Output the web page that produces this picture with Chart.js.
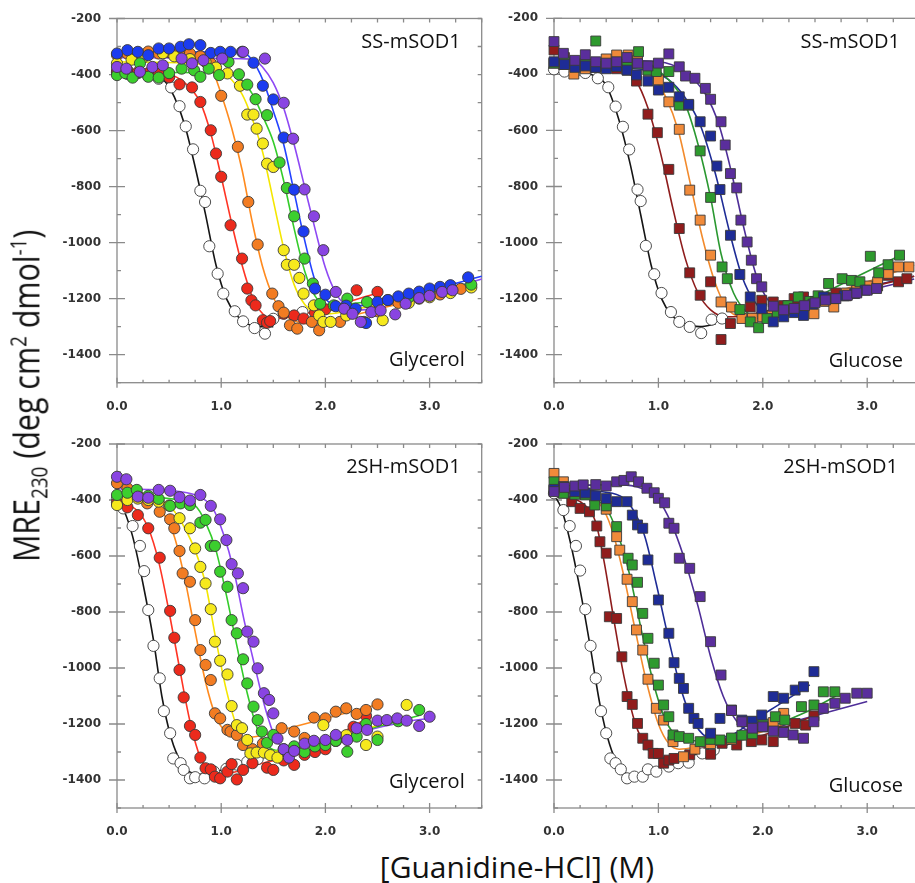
<!DOCTYPE html>
<html>
<head>
<meta charset="utf-8">
<script src="https://cdn.jsdelivr.net/npm/chart.js@4.4.1/dist/chart.umd.min.js"></script>
<style>
    body { margin: 0; width: 915px; height: 883px; overflow: hidden; background: #fff; position: relative; font-family: "Open Sans", sans-serif; }
    canvas { position: absolute; }
    #yTitle { position: absolute; left: 0; top: 0; white-space: nowrap; font-size: 36px; color: #111; line-height: 1; }
    #yTitle sub, #yTitle sup { font-size: 0.62em; }
    #xTitle { position: absolute; left: 0; width: 1034px; top: 846px; text-align: center; font-size: 30px; color: #111; white-space: nowrap; }
</style>
</head>
<body>
<canvas id="ssGlycerol" width="440" height="425" style="left:50px;top:0"></canvas>
<canvas id="ssGlucose" width="440" height="425" style="left:490px;top:0"></canvas>
<canvas id="shGlycerol" width="440" height="420" style="left:50px;top:425px"></canvas>
<canvas id="shGlucose" width="440" height="420" style="left:490px;top:425px"></canvas>
<div id="yTitle">MRE<sub>230</sub> (deg cm<sup>2</sup> dmol<sup>-1</sup>)</div>
<div id="xTitle">[Guanidine-HCl] (M)</div>
<script>
// Axis ranges and tick labels shared by all four panels
const xRange = [0, 3.5];
const yRange = [-1500, -200];
const xLabels = ['0.0', '1.0', '2.0', '3.0'];
const yLabels = [-200, -400, -600, -800, -1000, -1200, -1400];

// ---- SS-mSOD1 / glycerol (circles): [GdnHCl M, MRE]
const ssGlyWhite = [[0,-392],[0.1,-398],[0.2,-395],[0.3,-405],[0.4,-415],[0.52,-446],[0.6,-513],[0.66,-585],[0.73,-667],[0.8,-815],[0.845,-855],[0.886,-1013],[0.966,-1111],[1.02,-1182],[1.13,-1245],[1.21,-1281],[1.32,-1305],[1.42,-1325],[1.5,-1272],[1.78,-1248]];
const ssGlyRed = [[0,-388],[0.1,-385],[0.2,-392],[0.3,-395],[0.4,-398],[0.5,-410],[0.6,-435],[0.72,-446],[0.8,-498],[0.9,-599],[0.95,-682],[1.0,-765],[1.09,-938],[1.2,-1057],[1.25,-1164],[1.29,-1206],[1.33,-1224],[1.4,-1277],[1.44,-1286],[1.47,-1280],[1.6,-1254],[1.7,-1260],[1.79,-1271],[1.9,-1250],[2.0,-1238],[2.3,-1170],[2.5,-1176]];
const ssGlyOrange = [[0,-330],[0.1,-325],[0.2,-322],[0.3,-318],[0.4,-325],[0.5,-320],[0.6,-318],[0.7,-325],[0.8,-335],[0.9,-360],[1.0,-476],[1.16,-658],[1.26,-855],[1.35,-1007],[1.49,-1182],[1.55,-1227],[1.6,-1250],[1.66,-1295],[1.73,-1307],[1.87,-1283],[1.94,-1313],[2.14,-1283],[2.37,-1283],[2.5,-1245],[2.7,-1215],[2.9,-1200],[3.1,-1185],[3.3,-1165]];
const ssGlyYellow = [[0,-360],[0.14,-347],[0.25,-340],[0.44,-324],[0.55,-335],[0.7,-345],[0.85,-355],[0.95,-375],[1.06,-396],[1.18,-440],[1.25,-543],[1.31,-543],[1.34,-593],[1.4,-646],[1.44,-718],[1.5,-730],[1.6,-1027],[1.63,-1079],[1.7,-1079],[1.75,-1126],[1.79,-1182],[1.89,-1224],[1.94,-1260],[1.98,-1283],[2.05,-1283],[2.2,-1260],[2.55,-1277],[2.8,-1215],[3.0,-1195],[3.2,-1180],[3.4,-1160]];
const ssGlyGreen = [[0,-402],[0.08,-395],[0.15,-411],[0.22,-360],[0.3,-408],[0.4,-411],[0.5,-395],[0.62,-379],[0.74,-385],[0.8,-408],[0.88,-379],[0.98,-402],[1.07,-355],[1.17,-399],[1.25,-436],[1.33,-488],[1.44,-545],[1.56,-714],[1.63,-805],[1.7,-906],[1.8,-1057],[1.88,-1146],[1.95,-1218],[2.08,-1224],[2.21,-1200],[2.4,-1212],[2.6,-1205],[2.8,-1195],[3.0,-1180],[3.2,-1165],[3.4,-1150]];
const ssGlyBlue = [[0,-325],[0.1,-313],[0.2,-319],[0.3,-331],[0.4,-307],[0.5,-307],[0.61,-301],[0.69,-292],[0.8,-295],[0.9,-323],[0.99,-319],[1.09,-319],[1.2,-319],[1.31,-358],[1.4,-440],[1.5,-489],[1.6,-625],[1.7,-811],[1.79,-960],[1.9,-1164],[2.0,-1186],[2.1,-1227],[2.2,-1225],[2.29,-1236],[2.39,-1287],[2.5,-1212],[2.6,-1205],[2.7,-1192],[2.8,-1182],[2.9,-1175],[3.0,-1164],[3.1,-1158],[3.2,-1152],[3.37,-1124]];
const ssGlyPurple = [[0,-373],[0.09,-379],[0.22,-390],[0.34,-373],[0.44,-367],[0.62,-343],[0.72,-360],[0.83,-349],[1.01,-343],[1.21,-319],[1.42,-343],[1.6,-501],[1.69,-629],[1.8,-810],[1.89,-906],[1.98,-1027],[2.1,-1176],[2.18,-1236],[2.26,-1254],[2.34,-1283],[2.44,-1248],[2.53,-1242],[2.67,-1256],[2.77,-1218],[2.9,-1198],[3.0,-1190],[3.12,-1176],[3.22,-1170]];

const ssGlyWhiteFit = [[0,-390],[0.3,-395],[0.45,-420],[0.55,-480],[0.65,-580],[0.75,-730],[0.85,-900],[0.95,-1080],[1.05,-1200],[1.15,-1260],[1.25,-1290],[1.35,-1300],[1.5,-1300]];
const ssGlyRedFit = [[0,-388],[0.5,-400],[0.65,-430],[0.8,-500],[0.9,-610],[1.0,-765],[1.1,-930],[1.2,-1080],[1.3,-1195],[1.4,-1255],[1.5,-1272],[1.7,-1262],[2.0,-1235],[2.5,-1180]];
const ssGlyOrangeFit = [[0,-330],[0.8,-335],[0.9,-370],[1.0,-470],[1.1,-590],[1.2,-740],[1.3,-930],[1.4,-1090],[1.5,-1195],[1.6,-1255],[1.75,-1285],[1.9,-1290],[2.2,-1265],[2.8,-1210],[3.4,-1160]];
const ssGlyYellowFit = [[0,-355],[0.9,-365],[1.05,-400],[1.2,-470],[1.3,-560],[1.4,-680],[1.5,-850],[1.6,-1020],[1.7,-1150],[1.8,-1220],[1.9,-1250],[2.0,-1255],[2.4,-1230],[3.0,-1190],[3.4,-1160]];
const ssGlyGreenFit = [[0,-392],[1.1,-395],[1.2,-420],[1.3,-470],[1.4,-550],[1.5,-640],[1.6,-780],[1.7,-950],[1.8,-1100],[1.9,-1190],[2.0,-1222],[2.2,-1220],[2.8,-1185],[3.4,-1145]];
const ssGlyBlueFit = [[0,-318],[1.2,-320],[1.3,-350],[1.4,-420],[1.5,-530],[1.6,-650],[1.7,-820],[1.8,-990],[1.9,-1135],[2.0,-1200],[2.1,-1222],[2.3,-1225],[2.9,-1180],[3.5,-1120]];
const ssGlyPurpleFit = [[0,-340],[1.3,-345],[1.4,-375],[1.5,-430],[1.6,-520],[1.7,-650],[1.8,-800],[1.9,-950],[2.0,-1090],[2.1,-1180],[2.2,-1225],[2.35,-1240],[2.9,-1195],[3.5,-1130]];

// ---- SS-mSOD1 / glucose (squares)
const ssGluWhite = [[0,-382],[0.1,-390],[0.2,-392],[0.3,-395],[0.42,-414],[0.52,-446],[0.59,-515],[0.66,-587],[0.72,-668],[0.8,-811],[0.83,-852],[0.88,-1012],[0.96,-1113],[1.03,-1180],[1.12,-1248],[1.2,-1283],[1.3,-1301],[1.41,-1323],[1.51,-1275],[1.61,-1271]];
const ssGluRed = [[0,-313],[0.1,-340],[0.2,-365],[0.3,-370],[0.4,-375],[0.5,-370],[0.6,-380],[0.7,-385],[0.79,-424],[0.9,-542],[0.99,-608],[1.1,-739],[1.2,-950],[1.3,-1108],[1.4,-1188],[1.5,-1140],[1.6,-1346],[1.69,-1289],[1.88,-1230],[1.99,-1206],[2.1,-1212],[2.2,-1225],[2.3,-1200],[2.39,-1194],[2.5,-1210],[2.6,-1195],[2.7,-1180],[2.8,-1190],[2.9,-1175],[3.0,-1165],[3.1,-1155],[3.2,-1117],[3.3,-1140],[3.38,-1129]];
const ssGluOrange = [[0,-360],[0.09,-365],[0.19,-399],[0.3,-380],[0.4,-370],[0.5,-345],[0.6,-331],[0.71,-331],[0.8,-350],[0.9,-385],[1.0,-420],[1.1,-498],[1.2,-596],[1.3,-813],[1.4,-920],[1.5,-1045],[1.6,-1212],[1.7,-1230],[1.8,-1271],[1.9,-1270],[2.0,-1265],[2.09,-1260],[2.2,-1245],[2.3,-1240],[2.49,-1254],[2.6,-1210],[2.68,-1230],[2.8,-1180],[2.9,-1170],[3.0,-1155],[3.1,-1140],[3.2,-1110],[3.3,-1087],[3.4,-1087]];
const ssGluGreen = [[0,-360],[0.1,-355],[0.2,-365],[0.3,-365],[0.4,-281],[0.5,-370],[0.6,-365],[0.7,-370],[0.81,-319],[0.9,-385],[0.98,-390],[1.1,-390],[1.2,-510],[1.29,-510],[1.4,-673],[1.5,-839],[1.61,-1087],[1.66,-1129],[1.78,-1239],[1.88,-1283],[1.96,-1304],[2.04,-1271],[2.14,-1250],[2.24,-1225],[2.34,-1194],[2.45,-1210],[2.53,-1190],[2.63,-1146],[2.76,-1129],[2.85,-1135],[2.93,-1140],[3.03,-1049],[3.11,-1108],[3.2,-1079],[3.31,-1045]];
const ssGluNavy = [[0,-355],[0.1,-365],[0.2,-375],[0.3,-370],[0.4,-375],[0.5,-380],[0.6,-372],[0.7,-385],[0.79,-402],[0.9,-424],[1.0,-456],[1.1,-446],[1.2,-480],[1.29,-507],[1.4,-569],[1.5,-620],[1.56,-727],[1.59,-811],[1.69,-974],[1.78,-1114],[1.88,-1194],[1.99,-1236],[2.1,-1283],[2.2,-1265],[2.3,-1250],[2.39,-1260],[2.48,-1220],[2.58,-1194],[2.68,-1200],[2.78,-1190],[2.88,-1182],[2.98,-1170]];
const ssGluPurple = [[0,-283],[0.09,-325],[0.2,-350],[0.3,-330],[0.4,-355],[0.5,-360],[0.6,-355],[0.7,-340],[0.8,-360],[0.9,-370],[1.0,-360],[1.1,-327],[1.2,-373],[1.26,-406],[1.35,-414],[1.45,-450],[1.5,-489],[1.6,-569],[1.64,-652],[1.69,-754],[1.75,-805],[1.79,-920],[1.85,-998],[1.89,-1063],[1.94,-1129],[1.99,-1158],[2.1,-1227],[2.2,-1240],[2.3,-1235],[2.4,-1225],[2.5,-1215],[2.6,-1205],[2.7,-1200],[2.81,-1188],[2.9,-1180],[3.0,-1170],[3.09,-1164]];

const ssGluWhiteFit = [[0,-385],[0.35,-400],[0.5,-440],[0.62,-560],[0.73,-720],[0.83,-900],[0.93,-1080],[1.03,-1200],[1.13,-1260],[1.25,-1290],[1.4,-1300],[1.55,-1290]];
const ssGluRedFit = [[0,-362],[0.6,-380],[0.78,-420],[0.9,-520],[1.02,-680],[1.14,-880],[1.26,-1060],[1.38,-1180],[1.5,-1240],[1.65,-1265],[1.8,-1262],[2.2,-1230],[2.8,-1180],[3.45,-1120]];
const ssGluOrangeFit = [[0,-355],[0.8,-370],[0.95,-410],[1.07,-480],[1.19,-600],[1.3,-780],[1.42,-980],[1.54,-1140],[1.65,-1230],[1.8,-1265],[2.0,-1262],[2.5,-1200],[3.0,-1140],[3.45,-1080]];
const ssGluGreenFit = [[0,-370],[0.95,-380],[1.1,-420],[1.25,-500],[1.38,-650],[1.5,-840],[1.6,-1040],[1.72,-1180],[1.85,-1250],[1.95,-1270],[2.2,-1250],[2.8,-1140],[3.35,-1040]];
const ssGluNavyFit = [[0,-370],[0.9,-385],[1.1,-420],[1.25,-480],[1.4,-580],[1.55,-760],[1.68,-960],[1.8,-1120],[1.92,-1210],[2.05,-1250],[2.2,-1250],[3.0,-1160],[3.45,-1120]];
const ssGluPurpleFit = [[0,-345],[1.0,-355],[1.25,-390],[1.45,-470],[1.58,-580],[1.7,-750],[1.82,-950],[1.94,-1120],[2.06,-1210],[2.2,-1240],[2.8,-1190],[3.45,-1130]];

// ---- 2SH-mSOD1 / glycerol (circles)
const shGlyWhite = [[0,-395],[0.06,-430],[0.15,-493],[0.22,-564],[0.26,-654],[0.3,-793],[0.35,-921],[0.41,-1037],[0.45,-1154],[0.51,-1233],[0.54,-1323],[0.61,-1340],[0.64,-1364],[0.7,-1394],[0.75,-1390],[0.84,-1394],[0.93,-1370],[1.05,-1360],[1.15,-1345],[1.25,-1335],[1.35,-1325]];
const shGlyRed = [[0,-410],[0.1,-426],[0.2,-454],[0.3,-501],[0.41,-606],[0.51,-796],[0.55,-892],[0.6,-1007],[0.64,-1105],[0.7,-1207],[0.75,-1239],[0.8,-1320],[0.85,-1358],[0.9,-1362],[0.94,-1388],[0.99,-1394],[1.06,-1370],[1.1,-1343],[1.15,-1398],[1.21,-1364],[1.3,-1340],[1.44,-1356],[1.5,-1364],[1.6,-1330],[1.7,-1346],[1.8,-1310],[1.9,-1300],[2.0,-1290],[2.1,-1260],[2.2,-1250],[2.27,-1210],[2.39,-1171]];
const shGlyOrange = [[0,-340],[0.1,-358],[0.2,-385],[0.29,-412],[0.41,-442],[0.51,-469],[0.55,-501],[0.6,-582],[0.63,-662],[0.7,-692],[0.75,-829],[0.8,-936],[0.85,-989],[0.9,-1043],[0.94,-1162],[0.99,-1180],[1.06,-1221],[1.09,-1227],[1.15,-1239],[1.21,-1275],[1.3,-1290],[1.4,-1270],[1.58,-1215],[1.7,-1227],[1.8,-1250],[1.89,-1177],[2.0,-1180],[2.1,-1156],[2.2,-1144],[2.3,-1164],[2.39,-1150],[2.5,-1130]];
const shGlyYellow = [[0,-418],[0.1,-400],[0.2,-395],[0.3,-400],[0.4,-406],[0.5,-420],[0.6,-465],[0.7,-501],[0.75,-573],[0.8,-639],[0.85,-698],[0.9,-790],[0.94,-906],[0.99,-974],[1.06,-1023],[1.1,-1136],[1.15,-1204],[1.2,-1215],[1.25,-1257],[1.28,-1305],[1.34,-1302],[1.41,-1302],[1.47,-1311],[1.54,-1320],[1.7,-1290],[1.98,-1204],[2.1,-1260],[2.2,-1240],[2.39,-1275],[2.5,-1245],[2.78,-1132]];
const shGlyGreen = [[0,-382],[0.1,-374],[0.19,-364],[0.3,-385],[0.4,-396],[0.51,-421],[0.61,-412],[0.7,-418],[0.8,-481],[0.85,-471],[0.9,-564],[0.94,-564],[0.99,-656],[1.06,-710],[1.1,-829],[1.15,-876],[1.21,-969],[1.25,-1055],[1.31,-1138],[1.35,-1186],[1.39,-1227],[1.44,-1267],[1.5,-1239],[1.6,-1290],[1.7,-1280],[1.8,-1300],[1.9,-1280],[2.0,-1275],[2.1,-1260],[2.21,-1299],[2.3,-1245],[2.39,-1200],[2.5,-1257],[2.7,-1190],[2.9,-1150]];
const shGlyPurple = [[0,-317],[0.09,-326],[0.2,-388],[0.3,-392],[0.4,-364],[0.51,-367],[0.6,-390],[0.7,-402],[0.8,-382],[0.9,-421],[0.99,-469],[1.05,-543],[1.1,-629],[1.16,-662],[1.21,-715],[1.25,-870],[1.31,-906],[1.35,-1001],[1.41,-1090],[1.46,-1114],[1.5,-1162],[1.54,-1252],[1.6,-1290],[1.65,-1320],[1.7,-1296],[1.8,-1270],[1.89,-1260],[2.0,-1257],[2.1,-1239],[2.21,-1257],[2.3,-1215],[2.4,-1221],[2.5,-1188],[2.59,-1186],[2.69,-1180],[2.78,-1188],[2.9,-1207],[3.0,-1174]];

const shGlyWhiteFit = [[0,-400],[0.07,-440],[0.15,-530],[0.25,-700],[0.35,-900],[0.43,-1100],[0.52,-1250],[0.62,-1340],[0.72,-1375],[0.85,-1380],[1.0,-1365],[1.2,-1340],[1.35,-1320]];
const shGlyRedFit = [[0,-405],[0.2,-440],[0.3,-500],[0.4,-620],[0.5,-800],[0.6,-1000],[0.7,-1190],[0.8,-1320],[0.9,-1370],[1.0,-1380],[1.15,-1370],[1.3,-1350],[1.8,-1300],[2.4,-1180]];
const shGlyOrangeFit = [[0,-350],[0.35,-400],[0.45,-450],[0.55,-530],[0.65,-680],[0.75,-870],[0.85,-1050],[0.95,-1175],[1.05,-1230],[1.2,-1250],[1.4,-1240],[1.6,-1220],[2.0,-1180],[2.5,-1130]];
const shGlyYellowFit = [[0,-400],[0.45,-410],[0.55,-440],[0.65,-500],[0.75,-580],[0.85,-700],[0.95,-900],[1.05,-1080],[1.15,-1210],[1.25,-1280],[1.4,-1300],[1.6,-1295],[2.0,-1260],[2.8,-1170]];
const shGlyGreenFit = [[0,-380],[0.5,-395],[0.75,-420],[0.85,-480],[0.95,-580],[1.05,-740],[1.15,-920],[1.25,-1090],[1.35,-1220],[1.45,-1280],[1.55,-1295],[1.8,-1280],[2.4,-1220],[2.9,-1170]];
const shGlyPurpleFit = [[0,-360],[0.6,-370],[0.8,-390],[0.92,-430],[1.02,-520],[1.12,-650],[1.22,-830],[1.32,-990],[1.42,-1140],[1.52,-1250],[1.62,-1290],[1.8,-1280],[2.2,-1240],[2.8,-1190],[3.0,-1180]];

// ---- 2SH-mSOD1 / glucose (squares)
const shGluWhite = [[0,-376],[0.09,-436],[0.15,-493],[0.21,-564],[0.25,-652],[0.3,-790],[0.35,-921],[0.4,-1037],[0.45,-1154],[0.5,-1233],[0.54,-1323],[0.59,-1340],[0.64,-1362],[0.7,-1394],[0.77,-1388],[0.85,-1388],[0.9,-1362],[0.98,-1370],[1.1,-1352],[1.19,-1340],[1.29,-1338],[1.42,-1305],[1.53,-1293]];
const shGluRed = [[0,-365],[0.09,-375],[0.17,-406],[0.25,-430],[0.34,-442],[0.41,-493],[0.44,-549],[0.5,-590],[0.53,-817],[0.6,-823],[0.65,-960],[0.7,-1102],[0.75,-1130],[0.8,-1198],[0.85,-1251],[0.9,-1275],[0.95,-1305],[1.0,-1305],[1.05,-1340],[1.1,-1329],[1.15,-1323],[1.3,-1310],[1.5,-1308],[1.61,-1269],[1.75,-1275],[1.89,-1263],[1.99,-1257],[2.1,-1263],[2.2,-1227],[2.31,-1198],[2.41,-1204],[2.49,-1171]];
const shGluOrange = [[0,-305],[0.09,-335],[0.2,-375],[0.3,-380],[0.39,-388],[0.5,-433],[0.6,-531],[0.63,-579],[0.7,-683],[0.75,-763],[0.79,-864],[0.85,-936],[0.9,-1040],[0.98,-1144],[1.05,-1186],[1.14,-1263],[1.24,-1317],[1.35,-1290],[1.5,-1270],[1.7,-1255],[1.89,-1192],[2.0,-1210],[2.1,-1195],[2.2,-1162]];
const shGluGreen = [[0,-335],[0.09,-376],[0.2,-380],[0.3,-382],[0.39,-418],[0.5,-421],[0.6,-495],[0.71,-608],[0.75,-632],[0.8,-694],[0.85,-805],[0.9,-894],[0.96,-983],[1.0,-1061],[1.05,-1132],[1.1,-1174],[1.14,-1239],[1.2,-1245],[1.29,-1251],[1.4,-1263],[1.5,-1255],[1.59,-1257],[1.7,-1250],[1.8,-1240],[1.9,-1235],[2.0,-1200],[2.12,-1174],[2.21,-1186],[2.37,-1138],[2.49,-1132],[2.58,-1085],[2.69,-1085]];
const shGluNavy = [[0,-362],[0.09,-352],[0.2,-370],[0.3,-375],[0.4,-385],[0.5,-395],[0.6,-406],[0.7,-406],[0.75,-454],[0.8,-489],[0.85,-501],[0.9,-614],[1.0,-757],[1.1,-876],[1.15,-981],[1.2,-1037],[1.24,-1073],[1.29,-1144],[1.34,-1180],[1.38,-1198],[1.5,-1233],[1.59,-1180],[1.7,-1150],[1.8,-1186],[1.9,-1190],[1.99,-1168],[2.1,-1102],[2.2,-1108],[2.31,-1079],[2.39,-1067],[2.49,-1013]];
const shGluPurple = [[0,-370],[0.1,-355],[0.2,-350],[0.28,-346],[0.4,-345],[0.5,-350],[0.6,-335],[0.67,-330],[0.74,-317],[0.81,-335],[0.89,-358],[0.96,-374],[1.0,-394],[1.06,-410],[1.1,-483],[1.15,-501],[1.2,-608],[1.3,-644],[1.4,-745],[1.5,-906],[1.6,-1025],[1.7,-1152],[1.8,-1192],[1.9,-1215],[2.0,-1210],[2.1,-1225],[2.2,-1230],[2.29,-1239],[2.39,-1251],[2.49,-1192],[2.58,-1144],[2.69,-1126],[2.79,-1108],[2.9,-1090],[3.0,-1090]];

const shGluWhiteFit = [[0,-380],[0.07,-430],[0.15,-540],[0.25,-720],[0.35,-930],[0.44,-1130],[0.53,-1270],[0.62,-1350],[0.72,-1380],[0.85,-1380],[1.0,-1360],[1.2,-1330],[1.5,-1290],[1.7,-1270]];
const shGluRedFit = [[0,-380],[0.3,-420],[0.4,-480],[0.48,-620],[0.57,-820],[0.67,-1030],[0.78,-1200],[0.9,-1290],[1.0,-1320],[1.1,-1320],[1.3,-1300],[1.6,-1270],[2.0,-1240],[2.5,-1170]];
const shGluOrangeFit = [[0,-350],[0.3,-380],[0.45,-420],[0.55,-500],[0.65,-640],[0.77,-850],[0.88,-1040],[1.0,-1200],[1.1,-1270],[1.2,-1290],[1.4,-1280],[1.8,-1250],[2.2,-1200]];
const shGluGreenFit = [[0,-370],[0.35,-390],[0.5,-430],[0.6,-510],[0.72,-660],[0.84,-870],[0.95,-1050],[1.05,-1170],[1.15,-1235],[1.3,-1260],[1.6,-1260],[2.0,-1220],[2.4,-1160],[2.7,-1100]];
const shGluNavyFit = [[0,-360],[0.6,-380],[0.75,-430],[0.87,-530],[0.98,-700],[1.1,-900],[1.22,-1080],[1.35,-1200],[1.5,-1250],[1.7,-1240],[1.9,-1190],[2.2,-1120],[2.45,-1060]];
const shGluPurpleFit = [[0,-350],[0.6,-345],[0.85,-360],[1.0,-400],[1.12,-480],[1.24,-600],[1.38,-780],[1.5,-960],[1.62,-1100],[1.75,-1190],[1.85,-1220],[2.0,-1220],[2.4,-1180],[3.0,-1120]];

// Marker fills and fitted-line colours
const circleFill = { red: '#ec2a1c', orange: '#f27c22', yellow: '#f6e91c', green: '#3ccf2e', blue: '#1c3cf0', purple: '#8944e2' };
const circleLine = { red: '#ff3424', orange: '#ff8a1e', yellow: '#f4e600', green: '#34cc2a', blue: '#2242ff', purple: '#8e48f4' };
const squareFill = { red: '#901c1c', orange: '#f08a3a', green: '#2e9a2e', navy: '#1e2c96', purple: '#5a2e9c' };
const squareLine = { red: '#8e1c1c', orange: '#f28a2c', green: '#2a9830', navy: '#1e2c96', purple: '#4e2e98' };

function pts(arr) {
    return arr.map(([x, y]) => ({ x, y }));
}

function markers(arr, fill, style, order) {
    return {
        data: pts(arr),
        pointStyle: style,
        pointRadius: style === 'rect' ? 7 : 5.6,
        pointHoverRadius: style === 'rect' ? 7 : 5.6,
        backgroundColor: fill,
        borderColor: '#3a3a3a',
        borderWidth: 0.9,
        showLine: false,
        clip: false,
        order
    };
}

function fitLine(arr, color) {
    return {
        type: 'line',
        data: pts(arr),
        borderColor: color,
        borderWidth: 1.6,
        pointRadius: 0,
        cubicInterpolationMode: 'monotone',
        fill: false,
        clip: false,
        order: 20
    };
}

// Boxed frame with mirrored ticks, drawn under the markers
const frameTicks = {
    id: 'frameTicks',
    beforeDatasetsDraw(chart) {
        const { ctx, chartArea: a, scales: { x, y } } = chart;
        ctx.save();
        ctx.strokeStyle = '#8a8a8a';
        ctx.lineWidth = 1.3;
        ctx.strokeRect(a.left, a.top, a.right - a.left, a.bottom - a.top);
        ctx.beginPath();
        y.ticks.forEach(t => {
            const py = y.getPixelForValue(t.value);
            const major = t.value % 200 === 0;
            ctx.moveTo(a.left - (major ? 8 : 0), py);
            ctx.lineTo(a.left + (major ? 8 : 4), py);
            ctx.moveTo(a.right, py);
            ctx.lineTo(a.right - 4, py);
        });
        x.ticks.forEach(t => {
            const px = x.getPixelForValue(t.value);
            const major = Number.isInteger(t.value);
            ctx.moveTo(px, a.bottom + (major ? 5 : 0));
            ctx.lineTo(px, a.bottom - (major ? 5 : 3));
            ctx.moveTo(px, a.top);
            ctx.lineTo(px, a.top + 4);
        });
        ctx.stroke();
        ctx.restore();
    }
};

// Protein name top right, co-solvent bottom right
const panelText = {
    id: 'panelText',
    afterDatasetsDraw(chart, args, opts) {
        const { ctx, chartArea: a } = chart;
        ctx.save();
        ctx.fillStyle = '#111';
        ctx.font = '20px "Open Sans"';
        ctx.textAlign = 'right';
        ctx.textBaseline = 'alphabetic';
        ctx.fillText(opts.title, a.right - opts.titleInset, a.top + opts.titleDrop);
        ctx.fillText(opts.solvent, a.right - opts.solventInset, a.bottom - opts.solventRise);
        ctx.restore();
    }
};

// Tick labels sit off the axis via an invisible tick length, so the
// scale's own edge padding stays small and the plot box keeps its size
const tickFont = { family: 'DejaVu Sans', weight: 'bold', size: 12 };

function makePanel(id, box, text, datasets) {
    new Chart(document.getElementById(id), {
        type: 'scatter',
        data: { datasets },
        options: {
            responsive: false,
            animation: false,
            events: [],
            layout: { padding: { top: box.top, right: box.right, left: 0, bottom: 0 } },
            plugins: {
                legend: { display: false },
                tooltip: { enabled: false },
                panelText: text
            },
            scales: {
                x: {
                    type: 'linear',
                    min: xRange[0],
                    max: xRange[1],
                    grid: { display: false, drawTicks: true, tickLength: 17 },
                    border: { display: false },
                    ticks: {
                        stepSize: 0.25,
                        autoSkip: false,
                        maxRotation: 0,
                        padding: 0,
                        color: '#333',
                        font: tickFont,
                        callback: v => Number.isInteger(v) && v < xLabels.length ? xLabels[v] : ''
                    },
                    afterFit: s => { s.height = box.bottom; }
                },
                y: {
                    type: 'linear',
                    min: yRange[0],
                    max: yRange[1],
                    grid: { display: false, drawTicks: true, tickLength: 16 },
                    border: { display: false },
                    ticks: {
                        stepSize: 100,
                        autoSkip: false,
                        padding: 0,
                        color: '#333',
                        font: tickFont,
                        callback: v => yLabels.includes(v) ? String(v) : ''
                    },
                    afterFit: s => { s.width = box.left; }
                }
            }
        },
        plugins: [frameTicks, panelText]
    });
}

function fitTitles() {
    // squeeze the rotated y title to its column length and centre it
    const yt = document.getElementById('yTitle');
    const w = yt.offsetWidth, h = yt.offsetHeight;
    const s = 332 / w;
    yt.style.transform = `translate(${29 - w / 2}px, ${396 - h / 2}px) rotate(-90deg) scaleX(${s})`;
}

document.fonts.load('20px "Open Sans"').then(() => {
    fitTitles();

    makePanel('ssGlycerol', { left: 67, top: 18.5, right: 8.3, bottom: 42.3 },
        { title: 'SS-mSOD1', titleInset: 21, titleDrop: 29.5, solvent: 'Glycerol', solventInset: 17, solventRise: 16.5 }, [
        markers(ssGlyPurple, circleFill.purple, 'circle', 1),
        markers(ssGlyBlue, circleFill.blue, 'circle', 2),
        markers(ssGlyGreen, circleFill.green, 'circle', 3),
        markers(ssGlyYellow, circleFill.yellow, 'circle', 4),
        markers(ssGlyOrange, circleFill.orange, 'circle', 5),
        markers(ssGlyRed, circleFill.red, 'circle', 6),
        markers(ssGlyWhite, '#ffffff', 'circle', 7),
        fitLine(ssGlyWhiteFit, '#151515'),
        fitLine(ssGlyRedFit, circleLine.red),
        fitLine(ssGlyOrangeFit, circleLine.orange),
        fitLine(ssGlyYellowFit, circleLine.yellow),
        fitLine(ssGlyGreenFit, circleLine.green),
        fitLine(ssGlyBlueFit, circleLine.blue),
        fitLine(ssGlyPurpleFit, circleLine.purple)
    ]);

    makePanel('ssGlucose', { left: 64, top: 18.3, right: 10.6, bottom: 42.3 },
        { title: 'SS-mSOD1', titleInset: 19.5, titleDrop: 30, solvent: 'Glucose', solventInset: 16.5, solventRise: 16 }, [
        markers(ssGluPurple, squareFill.purple, 'rect', 1),
        markers(ssGluNavy, squareFill.navy, 'rect', 2),
        markers(ssGluGreen, squareFill.green, 'rect', 3),
        markers(ssGluOrange, squareFill.orange, 'rect', 4),
        markers(ssGluRed, squareFill.red, 'rect', 5),
        markers(ssGluWhite, '#ffffff', 'circle', 7),
        fitLine(ssGluWhiteFit, '#151515'),
        fitLine(ssGluRedFit, squareLine.red),
        fitLine(ssGluOrangeFit, squareLine.orange),
        fitLine(ssGluGreenFit, squareLine.green),
        fitLine(ssGluNavyFit, squareLine.navy),
        fitLine(ssGluPurpleFit, squareLine.purple)
    ]);

    makePanel('shGlycerol', { left: 67, top: 19, right: 8.3, bottom: 37 },
        { title: '2SH-mSOD1', titleInset: 21, titleDrop: 29, solvent: 'Glycerol', solventInset: 17, solventRise: 20 }, [
        markers(shGlyPurple, circleFill.purple, 'circle', 1),
        markers(shGlyGreen, circleFill.green, 'circle', 3),
        markers(shGlyYellow, circleFill.yellow, 'circle', 4),
        markers(shGlyOrange, circleFill.orange, 'circle', 5),
        markers(shGlyRed, circleFill.red, 'circle', 6),
        markers(shGlyWhite, '#ffffff', 'circle', 7),
        fitLine(shGlyWhiteFit, '#151515'),
        fitLine(shGlyRedFit, circleLine.red),
        fitLine(shGlyOrangeFit, circleLine.orange),
        fitLine(shGlyYellowFit, circleLine.yellow),
        fitLine(shGlyGreenFit, circleLine.green),
        fitLine(shGlyPurpleFit, circleLine.purple)
    ]);

    makePanel('shGlucose', { left: 64, top: 19, right: 10.6, bottom: 37 },
        { title: '2SH-mSOD1', titleInset: 21.5, titleDrop: 29, solvent: 'Glucose', solventInset: 16.5, solventRise: 16.5 }, [
        markers(shGluPurple, squareFill.purple, 'rect', 1),
        markers(shGluNavy, squareFill.navy, 'rect', 2),
        markers(shGluGreen, squareFill.green, 'rect', 3),
        markers(shGluOrange, squareFill.orange, 'rect', 4),
        markers(shGluRed, squareFill.red, 'rect', 5),
        markers(shGluWhite, '#ffffff', 'circle', 7),
        fitLine(shGluWhiteFit, '#151515'),
        fitLine(shGluRedFit, squareLine.red),
        fitLine(shGluOrangeFit, squareLine.orange),
        fitLine(shGluGreenFit, squareLine.green),
        fitLine(shGluNavyFit, squareLine.navy),
        fitLine(shGluPurpleFit, squareLine.purple)
    ]);
});
</script>
</body>
</html>
